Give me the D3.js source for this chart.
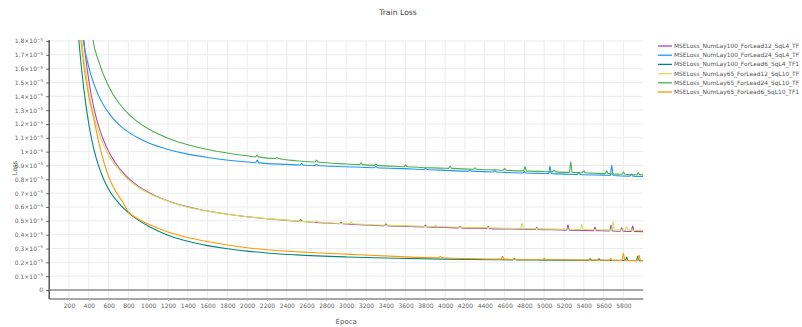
<!DOCTYPE html>
<html>
<head>
<meta charset="utf-8">
<script src="https://cdn.jsdelivr.net/npm/d3@7"></script>
<style>
	body { margin: 0; background: #fff; }
	svg { display: block; font-family: "DejaVu Sans", sans-serif; }
</style>
</head>
<body>
<div id="chart"></div>
<script>
// values are in units of 10^-5
const seriesNames = [
	"MSELoss_NumLay100_ForLead12_SqL4_TF",
	"MSELoss_NumLay100_ForLead24_SqL4_TF",
	"MSELoss_NumLay100_ForLead6_SqL4_TF1",
	"MSELoss_NumLay65_ForLead12_SqL10_TF",
	"MSELoss_NumLay65_ForLead24_SqL10_TF",
	"MSELoss_NumLay65_ForLead6_SqL10_TF1"
];
const seriesColors = ["#ab47bc", "#2196f3", "#00897b", "#d4e157", "#4caf50", "#ff9800"];

const lead12Lay100 = [
	[300, 2.31], [351, 1.8], [400, 1.514], [450, 1.32], [500, 1.183], [550, 1.081], [600, 1.002],
	[650, 0.939], [700, 0.887], [800, 0.808], [900, 0.751], [1000, 0.707], [1200, 0.644],
	[1400, 0.602], [1600, 0.571], [2000, 0.53], [2400, 0.503], [2525, 0.497], [2540, 0.509],
	[2555, 0.497], [2800, 0.484], [2935, 0.479], [2950, 0.489], [2965, 0.479], [3200, 0.47],
	[3385, 0.465], [3400, 0.477], [3415, 0.465], [3600, 0.46], [3785, 0.456], [3800, 0.467],
	[3815, 0.456], [4000, 0.452], [4135, 0.449], [4150, 0.461], [4165, 0.449], [4400, 0.445],
	[4420, 0.444], [4434, 0.459], [4448, 0.444], [4800, 0.439], [4910, 0.437], [4924, 0.454],
	[4938, 0.437], [5200, 0.433], [5226, 0.432], [5240, 0.472], [5254, 0.432], [5499, 0.429],
	[5513, 0.455], [5527, 0.429], [5600, 0.428], [5661, 0.427], [5675, 0.468], [5689, 0.427],
	[5769, 0.425], [5783, 0.45], [5797, 0.425], [5880, 0.423], [5894, 0.464], [5908, 0.423],
	[6000, 0.422]
];
const lead24Lay100 = [
	[280, 2.2], [345, 1.8], [400, 1.611], [500, 1.403], [600, 1.28], [700, 1.199], [800, 1.141],
	[900, 1.098], [1000, 1.064], [1200, 1.016], [1400, 0.982], [1600, 0.958], [2000, 0.925],
	[2085, 0.92], [2100, 0.939], [2115, 0.919], [2400, 0.908], [2535, 0.904], [2550, 0.915],
	[2565, 0.904], [2685, 0.9], [2700, 0.908], [2715, 0.9], [3000, 0.891], [3285, 0.884],
	[3300, 0.895], [3315, 0.884], [3600, 0.877], [3785, 0.871], [3800, 0.879], [3815, 0.871],
	[4000, 0.865], [4235, 0.859], [4250, 0.869], [4265, 0.859], [4485, 0.853], [4500, 0.863],
	[4515, 0.853], [4600, 0.85], [4785, 0.846], [4800, 0.856], [4815, 0.846], [5000, 0.842],
	[5044, 0.841], [5058, 0.894], [5072, 0.841], [5335, 0.835], [5350, 0.85], [5365, 0.835],
	[5600, 0.83], [5668, 0.828], [5682, 0.902], [5696, 0.828], [5865, 0.823], [5880, 0.839],
	[5895, 0.823], [6000, 0.82]
];
const lead6Lay100 = [
	[250, 2.3], [300, 1.8], [350, 1.45], [400, 1.2], [450, 1.02], [500, 0.895], [550, 0.8],
	[600, 0.728], [700, 0.63], [800, 0.56], [900, 0.505], [1000, 0.462], [1100, 0.426],
	[1200, 0.396], [1400, 0.352], [1600, 0.321], [1800, 0.298], [2000, 0.281], [2200, 0.268],
	[2500, 0.254], [3000, 0.239], [3500, 0.229], [4000, 0.223], [4500, 0.219], [4685, 0.218],
	[4700, 0.227], [4715, 0.218], [5000, 0.216], [5449, 0.214], [5463, 0.226], [5477, 0.214],
	[5539, 0.214], [5553, 0.226], [5567, 0.214], [5819, 0.213], [5833, 0.238], [5847, 0.213],
	[5931, 0.212], [5945, 0.245], [5959, 0.212], [6000, 0.212]
];
const lead12Lay65 = [
	[290, 2.15], [335, 1.77], [400, 1.43], [450, 1.26], [500, 1.139], [550, 1.047], [600, 0.975],
	[650, 0.918], [700, 0.871], [800, 0.797], [900, 0.743], [1000, 0.701], [1200, 0.642],
	[1400, 0.598], [1600, 0.57], [2000, 0.53], [2400, 0.505], [2685, 0.491], [2700, 0.501],
	[2715, 0.491], [2800, 0.487], [3035, 0.479], [3050, 0.491], [3065, 0.479], [3200, 0.474],
	[3600, 0.465], [3885, 0.459], [3900, 0.47], [3915, 0.459], [4000, 0.457], [4400, 0.451],
	[4762, 0.445], [4776, 0.483], [4790, 0.445], [5200, 0.44], [5365, 0.437], [5379, 0.473],
	[5393, 0.437], [5600, 0.435], [5681, 0.434], [5695, 0.493], [5709, 0.434], [5819, 0.433],
	[5833, 0.459], [5847, 0.433], [6000, 0.431]
];
const lead24Lay65 = [
	[380, 2.3], [445, 1.8], [500, 1.653], [600, 1.473], [700, 1.355], [800, 1.273], [900, 1.212],
	[1000, 1.165], [1200, 1.097], [1400, 1.05], [1600, 1.016], [2000, 0.97], [2085, 0.963],
	[2100, 0.975], [2115, 0.962], [2285, 0.95], [2300, 0.958], [2315, 0.95], [2500, 0.934],
	[2685, 0.925], [2700, 0.939], [2715, 0.925], [3000, 0.911], [3135, 0.906], [3150, 0.92],
	[3165, 0.906], [3285, 0.901], [3300, 0.911], [3315, 0.901], [3500, 0.894], [3585, 0.891],
	[3600, 0.903], [3615, 0.891], [4000, 0.88], [4035, 0.879], [4050, 0.894], [4065, 0.879],
	[4285, 0.873], [4300, 0.883], [4315, 0.873], [4500, 0.868], [4585, 0.866], [4600, 0.878],
	[4615, 0.866], [4792, 0.861], [4806, 0.892], [4820, 0.861], [5000, 0.856], [5085, 0.854],
	[5100, 0.866], [5115, 0.854], [5254, 0.85], [5268, 0.926], [5282, 0.85], [5385, 0.847],
	[5400, 0.862], [5415, 0.847], [5500, 0.844], [5617, 0.841], [5631, 0.861], [5645, 0.841],
	[5786, 0.837], [5800, 0.853], [5814, 0.837], [5936, 0.833], [5950, 0.848], [5964, 0.833],
	[6000, 0.832]
];
const lead6Lay65 = [
	[250, 2.4], [321, 1.8], [350, 1.62], [400, 1.4], [450, 1.24], [500, 1.07], [550, 0.93],
	[600, 0.82], [650, 0.74], [700, 0.68], [740, 0.64], [770, 0.6], [800, 0.565], [850, 0.535],
	[917, 0.506], [1000, 0.477], [1100, 0.447], [1200, 0.42], [1400, 0.38], [1600, 0.35],
	[1800, 0.325], [2000, 0.305], [2200, 0.291], [2500, 0.276], [3000, 0.259], [3500, 0.243],
	[3935, 0.233], [3950, 0.244], [3965, 0.233], [4500, 0.224], [4567, 0.2235], [4581, 0.243],
	[4595, 0.2235], [4985, 0.219], [5000, 0.229], [5015, 0.219], [5500, 0.216], [5658, 0.215],
	[5672, 0.23], [5686, 0.215], [5786, 0.2145], [5800, 0.268], [5814, 0.2145], [5944, 0.213],
	[5958, 0.252], [5972, 0.213], [6000, 0.213]
];
const seriesValues = [lead12Lay100, lead24Lay100, lead6Lay100, lead12Lay65, lead24Lay65, lead6Lay65];

const epochTicks = [200, 400, 600, 800, 1000, 1200, 1400, 1600, 1800, 2000, 2200, 2400, 2600, 2800,
	3000, 3200, 3400, 3600, 3800, 4000, 4200, 4400, 4600, 4800, 5000, 5200, 5400, 5600, 5800];
const lossTicks = [0, 0.1, 0.2, 0.3, 0.4, 0.5, 0.6, 0.7, 0.8, 0.9, 1, 1.1, 1.2, 1.3, 1.4, 1.5, 1.6, 1.7, 1.8];
const lossTickLabels = ["0", "0.1×10", "0.2×10", "0.3×10", "0.4×10", "0.5×10", "0.6×10", "0.7×10",
	"0.8×10", "0.9×10", "1×10", "1.1×10", "1.2×10", "1.3×10", "1.4×10", "1.5×10", "1.6×10", "1.7×10", "1.8×10"];
const lossExponent = "−5";

const width = 802, height = 327;
const plot = {left: 49.2, right: 643.2, top: 40, bottom: 299};

const svg = d3.select("#chart")
	.append("svg")
	.attr("width", width)
	.attr("height", height);

const x = d3.scaleLinear().domain([0, 6000]).range([plot.left, plot.right]);
const y = d3.scaleLinear().domain([-0.065, 1.807]).range([plot.bottom, plot.top]);

svg.append("defs").append("clipPath").attr("id", "plotClip")
	.append("rect")
	.attr("x", plot.left)
	.attr("y", plot.top)
	.attr("width", plot.right - plot.left)
	.attr("height", plot.bottom - plot.top);

// grid
const grid = svg.append("g").attr("class", "grid");
grid.selectAll("line.v")
	.data(epochTicks).enter()
	.append("line")
	.attr("class", "v")
	.attr("x1", (d) => x(d)).attr("x2", (d) => x(d))
	.attr("y1", plot.top).attr("y2", plot.bottom)
	.attr("stroke", "#ececec").attr("stroke-width", 1);
grid.selectAll("line.h")
	.data(lossTicks.filter((d) => d > 0)).enter()
	.append("line")
	.attr("class", "h")
	.attr("x1", plot.left).attr("x2", plot.right)
	.attr("y1", (d) => y(d)).attr("y2", (d) => y(d))
	.attr("stroke", "#ececec").attr("stroke-width", 1);

// zero line
svg.append("line")
	.attr("x1", plot.left).attr("x2", plot.right)
	.attr("y1", y(0)).attr("y2", y(0))
	.attr("stroke", "#8a8a8a").attr("stroke-width", 1.6);

// axes
const xAxis = d3.axisBottom(x).tickValues(epochTicks).tickSize(2).tickPadding(3).tickFormat(d3.format("d"));
const yAxis = d3.axisLeft(y).tickValues(lossTicks).tickSize(3).tickPadding(3).tickFormat("");

const gx = svg.append("g")
	.attr("transform", "translate(0," + plot.bottom + ")")
	.call(xAxis);
gx.select(".domain").attr("stroke", "#8a8a8a").attr("stroke-width", 1.5)
	.attr("d", "M" + plot.left + ",0H" + plot.right);
gx.selectAll(".tick line").attr("stroke", "#bbb");
gx.selectAll(".tick text").attr("fill", "#666").attr("font-size", 6).attr("font-family", "DejaVu Sans");

const gy = svg.append("g")
	.attr("transform", "translate(" + plot.left + ",0)")
	.call(yAxis);
gy.select(".domain").attr("stroke", "#555").attr("stroke-width", 1.5)
	.attr("d", "M0," + plot.top + "V" + plot.bottom);
gy.selectAll(".tick line").attr("stroke", "#666");

gy.selectAll(".tick text")
	.attr("fill", "#666")
	.attr("font-size", 6)
	.attr("font-family", "DejaVu Sans")
	.each(function(d, i) {
		const t = d3.select(this);
		t.text(null);
		t.append("tspan").text(lossTickLabels[i]);
		if (d !== 0) {
			t.append("tspan")
				.attr("font-size", 4.2)
				.attr("dy", -2.5)
				.text(lossExponent);
		}
	});

// series
const lineGenerator = d3.line()
	.x((d) => x(d[0]))
	.y((d) => y(d[1]))
	.curve(d3.curveMonotoneX);

svg.append("g")
	.attr("clip-path", "url(#plotClip)")
	.selectAll("path")
	.data(seriesValues).enter()
	.append("path")
	.attr("fill", "none")
	.attr("stroke", (d, i) => seriesColors[i])
	.attr("stroke-width", 1.1)
	.attr("d", lineGenerator);

// titles
svg.append("text")
	.attr("x", 398).attr("y", 15)
	.attr("text-anchor", "middle")
	.attr("font-size", 7.7)
	.attr("fill", "#444")
	.text("Train Loss");
svg.append("text")
	.attr("x", (plot.left + plot.right) / 2).attr("y", 324)
	.attr("text-anchor", "middle")
	.attr("font-size", 7)
	.attr("fill", "#555")
	.text("Época");
svg.append("text")
	.attr("transform", "translate(17,168) rotate(-90)")
	.attr("text-anchor", "middle")
	.attr("font-size", 6.5)
	.attr("fill", "#555")
	.text("Loss");

// legend
const legend = svg.append("g")
	.selectAll("g")
	.data(seriesNames).enter()
	.append("g")
	.attr("transform", (d, i) => "translate(658," + (46 + i * 9.2) + ")");
legend.append("line")
	.attr("x1", 0).attr("x2", 14)
	.attr("stroke", (d, i) => seriesColors[i])
	.attr("stroke-width", 1.3);
legend.append("text")
	.attr("x", 16).attr("dy", "0.35em")
	.attr("font-size", 5.9)
	.attr("fill", "#555")
	.text((d) => d);
</script>
</body>
</html>
